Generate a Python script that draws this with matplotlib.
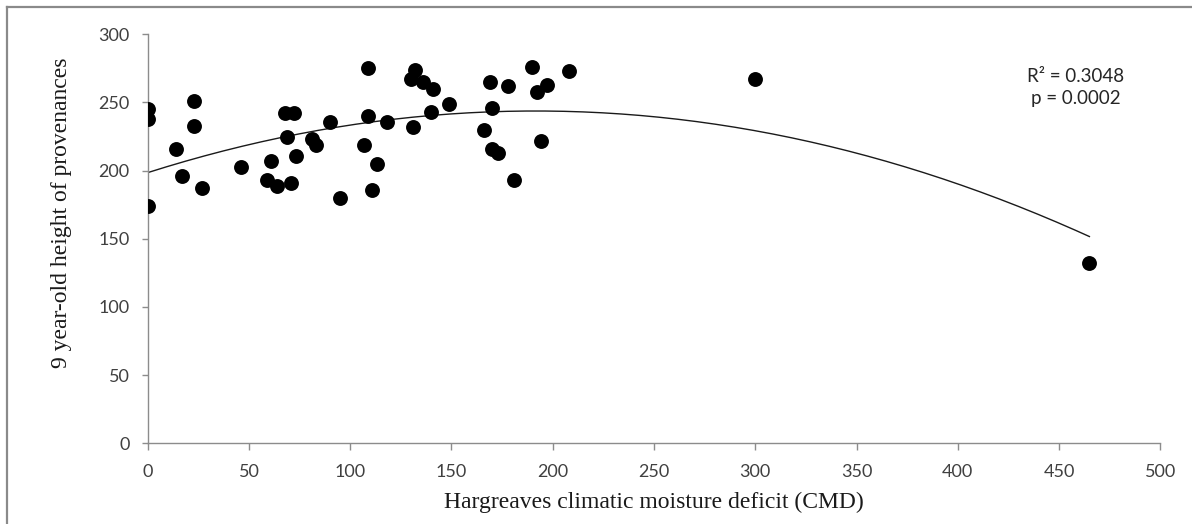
import numpy as np
import matplotlib
matplotlib.use("Agg")
import matplotlib.pyplot as plt
from matplotlib.lines import Line2D

# values
cmd = [0, 0, 0, 23, 23, 14, 17, 27, 46, 59, 64, 71, 61, 73, 68, 72, 69, 81, 83, 90,
       109, 109, 107, 113, 111, 95, 118, 132, 130, 136, 141, 131, 140, 149,
       169, 170, 166, 170, 173, 178, 181, 190, 192, 197, 194, 208, 300, 465]
height = [245, 238, 174, 251, 233, 216, 196, 187, 203, 193, 189, 191, 207, 211, 242, 242, 225, 223, 219, 236,
          275, 240, 219, 205, 186, 180, 236, 274, 267, 265, 260, 232, 243, 249,
          265, 246, 230, 216, 213, 262, 193, 276, 258, 263, 222, 273, 267, 132]
x_ticks = [0, 50, 100, 150, 200, 250, 300, 350, 400, 450, 500]
y_ticks = [0, 50, 100, 150, 200, 250, 300]
stats_text = "R² = 0.3048\np = 0.0002"

x = np.array(cmd, dtype=float)
y = np.array(height, dtype=float)

# second order trend line from the points
coef = np.polyfit(x, y, 2)
xs = np.linspace(0, x.max(), 200)
ys = np.polyval(coef, xs)

fig = plt.figure(figsize=(11.92, 5.24), dpi=100)
ax = fig.add_axes([0.1239, 0.154, 0.8495, 0.7805])

ax.scatter(x, y, s=115, color="black", zorder=3, linewidths=0)
ax.plot(xs, ys, color="#1a1a1a", lw=1.0, zorder=2)

ax.set_xlim(0, 500)
ax.set_ylim(0, 300)
ax.set_xticks(x_ticks)
ax.set_yticks(y_ticks)

tick_font = "Lato"
for lab in ax.get_xticklabels() + ax.get_yticklabels():
    lab.set_fontfamily(tick_font)
ax.tick_params(axis="x", direction="out", length=5, width=1, color="#8c8c8c",
               labelsize=13, labelcolor="#404040", pad=10)
ax.tick_params(axis="y", direction="out", length=4, width=1, color="#8c8c8c",
               labelsize=13, labelcolor="#404040", pad=9)

for side in ["top", "right"]:
    ax.spines[side].set_visible(False)
for side in ["left", "bottom"]:
    ax.spines[side].set_color("#8c8c8c")
    ax.spines[side].set_linewidth(1)

fig.text(0.5487, 1 - 502 / 524, "Hargreaves climatic moisture deficit (CMD)",
         family="Liberation Serif", fontsize=17, color="#1a1a1a", ha="center", va="center")
fig.text(62 / 1192, 1 - 213 / 524, "9 year-old height of provenances",
         family="Liberation Serif", fontsize=17, color="#1a1a1a", ha="center", va="center",
         rotation=90)

ax.text(0.9168, 0.87, stats_text, transform=ax.transAxes, family=tick_font, fontsize=13.5,
        color="#262626", ha="center", va="center", linespacing=1.35)

# chart frame (only top and left edges show in the reference)
fig.add_artist(Line2D([7 / 1192, 1], [1 - 7 / 524, 1 - 7 / 524], transform=fig.transFigure,
                      color="#8a8a8a", lw=1.6))
fig.add_artist(Line2D([7 / 1192, 7 / 1192], [0, 1 - 7 / 524], transform=fig.transFigure,
                      color="#8a8a8a", lw=1.6))

fig.savefig("out.png", dpi=100)
